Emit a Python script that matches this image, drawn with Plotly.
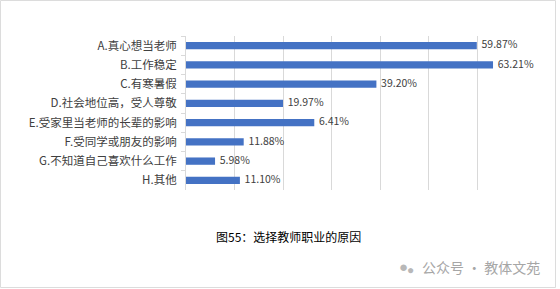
import plotly.graph_objects as go

categories = ["A.真心想当老师", "B.工作稳定", "C.有寒暑假", "D.社会地位高，受人尊敬",
              "E.受家里当老师的长辈的影响", "F.受同学或朋友的影响", "G.不知道自己喜欢什么工作", "H.其他"]
values = [59.87, 63.21, 39.20, 19.97, 26.41, 11.88, 5.98, 11.10]
value_labels = ["59.87%", "63.21%", "39.20%", "19.97%", "6.41%", "11.88%", "5.98%", "11.10%"]
x_ticks = [0, 10, 20, 30, 40, 50, 60, 70]

font_cjk = "Noto Sans CJK SC"

fig = go.Figure()
fig.add_trace(go.Bar(
    y=categories, x=values, orientation="h",
    marker=dict(color="#4472C4", line=dict(width=0)),
    width=0.38, hoverinfo="skip",
))
fig.add_trace(go.Scatter(
    y=categories, x=values, mode="text",
    text=["  " + t for t in value_labels], textposition="middle right",
    textfont=dict(family=font_cjk, size=10.5, color="#404040"),
    cliponaxis=False, hoverinfo="skip",
))

L, R, T, B = 186, 34, 36, 99
pw = 560 - L - R
ph = 289 - T - B

def px(x):
    return (x - L) / pw

def py(y):
    return (289 - B - y) / ph

fig.update_layout(
    width=560, height=289,
    margin=dict(l=L, r=R, t=T, b=B),
    paper_bgcolor="white", plot_bgcolor="white",
    showlegend=False,
    bargap=0.6,
    xaxis=dict(range=[0, 70], tickvals=x_ticks, showticklabels=False,
               showgrid=True, gridcolor="#d9d9d9", gridwidth=1, zeroline=False,
               showline=False, fixedrange=True),
    yaxis=dict(autorange="reversed", showline=True, linecolor="#d9d9d9", linewidth=1,
               ticks="outside", tickson="boundaries", ticklen=4, tickcolor="#d9d9d9",
               tickfont=dict(family=font_cjk, size=11.5, color="#404040"),
               ticklabelstandoff=6, showgrid=False),
)

fig.add_annotation(text="图55：选择教师职业的原因", x=px(288), y=py(236), xref="paper", yref="paper",
                   xanchor="center", yanchor="middle", showarrow=False,
                   font=dict(family=font_cjk, size=12, color="#000000"))
fig.add_annotation(text="公众号 · 教体文苑", x=px(542), y=py(267), xref="paper", yref="paper",
                   xanchor="right", yanchor="middle", showarrow=False,
                   font=dict(family=font_cjk, size=14, color="#a6a6a6"))
fig.add_annotation(x=px(403), y=py(266), xref="paper", yref="paper",
                   xanchor="center", yanchor="middle",
                   text="●", showarrow=False, font=dict(size=15, color="#b8b8b8"))
fig.add_annotation(x=px(410), y=py(269), xref="paper", yref="paper",
                   xanchor="center", yanchor="middle",
                   text="●", showarrow=False, font=dict(size=12, color="#b8b8b8"))

fig.add_shape(type="rect", xref="paper", yref="paper",
              x0=px(0.5), x1=px(555.5), y0=py(287.5), y1=py(0.5),
              line=dict(color="#dcdcdc", width=1), fillcolor="rgba(0,0,0,0)")

fig.write_html("out.html")
